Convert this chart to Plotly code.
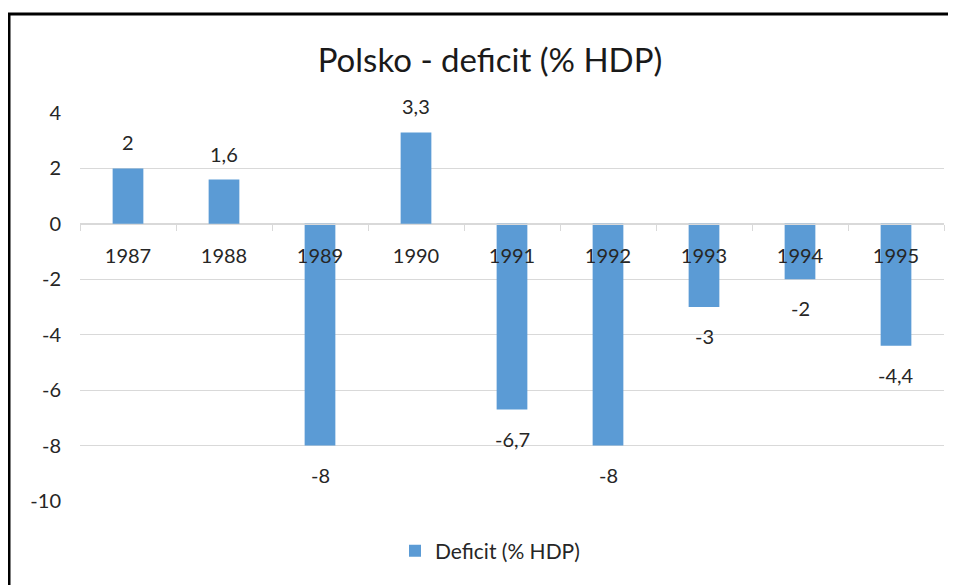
import plotly.graph_objects as go

years = ["1987", "1988", "1989", "1990", "1991", "1992", "1993", "1994", "1995"]
deficit = [2, 1.6, -8, 3.3, -6.7, -8, -3, -2, -4.4]
labels = [str(v).replace(".", ",") for v in deficit]
y_ticks = [-10, -8, -6, -4, -2, 0, 2, 4]

OFF = 8  # default page body margin
W, H = 956 - OFF, 585 - OFF
ML, MR, MT, MB = 72, 12, 105, 84
ymin, ymax = -10, 4
plot_w = W - ML - MR
plot_h = H - MT - MB

FONT = "Lato"
TXT = "#262626"

fig = go.Figure()
fig.add_trace(go.Bar(
    x=list(range(len(years))), y=deficit, name="Deficit (% HDP)",
    marker=dict(color="#5b9bd5", line=dict(width=0)),
))

for i, (v, t) in enumerate(zip(deficit, labels)):
    fig.add_annotation(
        x=i, y=v, text=t, showarrow=False, xref="x", yref="y",
        yanchor="middle", yshift=26 if v >= 0 else -29,
        font=dict(family=FONT, size=20, color=TXT),
    )

def px_x(p):
    return (p - OFF - ML) / plot_w

def px_y(p):
    return (H - MB - (p - OFF)) / plot_h

# chart-area border (top and left edges visible)
fig.add_shape(type="line", xref="paper", yref="paper",
              x0=px_x(4), x1=px_x(960), y0=px_y(14), y1=px_y(14),
              line=dict(color="black", width=3))
fig.add_shape(type="line", xref="paper", yref="paper",
              x0=px_x(9), x1=px_x(9), y0=px_y(13), y1=px_y(590),
              line=dict(color="black", width=3))

fig.update_layout(
    width=W, height=H,
    margin=dict(l=ML, r=MR, t=MT, b=MB),
    paper_bgcolor="white", plot_bgcolor="white",
    title=dict(text="Polsko - deficit (% HDP)", x=(490 - OFF) / W, xanchor="center",
               y=1 - (60 - OFF) / H, yanchor="middle",
               font=dict(family=FONT, size=33, color="#1a1a1a")),
    bargap=0.68,
    showlegend=True,
    legend=dict(orientation="h", x=px_x(490), xanchor="center",
                y=px_y(551), yanchor="middle",
                font=dict(family=FONT, size=21, color=TXT), itemwidth=30),
    xaxis=dict(
        anchor="free", range=[-0.5, len(years) - 0.5],
        position=(0 - ymin) / (ymax - ymin),
        tickvals=list(range(len(years))), ticktext=years,
        showline=True, linecolor="#d9d9d9", linewidth=1,
        ticks="", showgrid=False, ticklabelstandoff=14,
        tickfont=dict(family=FONT, size=20, color=TXT),
        minor=dict(tickvals=[i - 0.5 for i in range(len(years) + 1)],
                   ticks="outside", ticklen=6, tickcolor="#d9d9d9", showgrid=False),
        zeroline=False,
    ),
    yaxis=dict(
        range=[ymin, ymax], tickvals=y_ticks, ticktext=[str(v) for v in y_ticks],
        showgrid=True, gridcolor="#d9d9d9", gridwidth=1,
        zeroline=False, showline=False, ticks="",
        ticklabelstandoff=18,
        tickfont=dict(family=FONT, size=20, color=TXT),
    ),
)

fig.write_html("out.html")
